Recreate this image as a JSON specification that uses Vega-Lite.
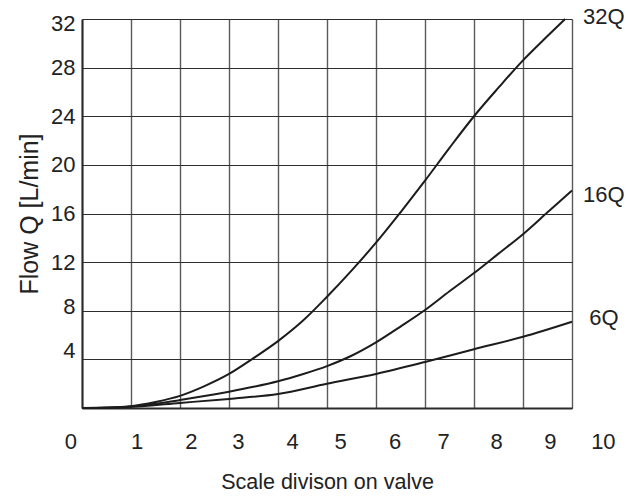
{
  "$schema": "https://vega.github.io/schema/vega-lite/v6.json",
  "width": 490,
  "height": 389,
  "autosize": {"type": "none"},
  "padding": {"left": 82, "top": 19, "right": 60, "bottom": 89},
  "background": "white",
  "config": {
    "view": {"stroke": null},
    "font": "Liberation Sans"
  },
  "datasets": {
    "curves": [
      {"series": "32Q", "x": 0, "y": 0},
      {"series": "32Q", "x": 0.5, "y": 0.03},
      {"series": "32Q", "x": 1, "y": 0.15},
      {"series": "32Q", "x": 1.5, "y": 0.5},
      {"series": "32Q", "x": 2, "y": 1.0},
      {"series": "32Q", "x": 2.5, "y": 1.8},
      {"series": "32Q", "x": 3, "y": 2.8},
      {"series": "32Q", "x": 3.5, "y": 4.1},
      {"series": "32Q", "x": 4, "y": 5.5},
      {"series": "32Q", "x": 4.5, "y": 7.15},
      {"series": "32Q", "x": 5, "y": 9.15},
      {"series": "32Q", "x": 5.5, "y": 11.3},
      {"series": "32Q", "x": 6, "y": 13.6},
      {"series": "32Q", "x": 6.5, "y": 16.1},
      {"series": "32Q", "x": 7, "y": 18.7},
      {"series": "32Q", "x": 7.5, "y": 21.4},
      {"series": "32Q", "x": 8, "y": 24.0},
      {"series": "32Q", "x": 8.5, "y": 26.35},
      {"series": "32Q", "x": 9, "y": 28.6},
      {"series": "32Q", "x": 9.5, "y": 30.6},
      {"series": "32Q", "x": 9.86, "y": 32},
      {"series": "16Q", "x": 0, "y": 0},
      {"series": "16Q", "x": 0.5, "y": 0.02},
      {"series": "16Q", "x": 1, "y": 0.12},
      {"series": "16Q", "x": 1.5, "y": 0.35},
      {"series": "16Q", "x": 2, "y": 0.65},
      {"series": "16Q", "x": 2.5, "y": 0.98},
      {"series": "16Q", "x": 3, "y": 1.34},
      {"series": "16Q", "x": 3.5, "y": 1.74},
      {"series": "16Q", "x": 4, "y": 2.2},
      {"series": "16Q", "x": 4.5, "y": 2.78},
      {"series": "16Q", "x": 5, "y": 3.45},
      {"series": "16Q", "x": 5.5, "y": 4.3},
      {"series": "16Q", "x": 6, "y": 5.4},
      {"series": "16Q", "x": 6.5, "y": 6.7},
      {"series": "16Q", "x": 7, "y": 8.06},
      {"series": "16Q", "x": 7.5, "y": 9.6},
      {"series": "16Q", "x": 8, "y": 11.1},
      {"series": "16Q", "x": 8.5, "y": 12.7},
      {"series": "16Q", "x": 9, "y": 14.3},
      {"series": "16Q", "x": 9.5, "y": 16.1},
      {"series": "16Q", "x": 10, "y": 17.9},
      {"series": "6Q", "x": 0, "y": 0},
      {"series": "6Q", "x": 1, "y": 0.1},
      {"series": "6Q", "x": 2, "y": 0.42},
      {"series": "6Q", "x": 3, "y": 0.75},
      {"series": "6Q", "x": 4, "y": 1.15},
      {"series": "6Q", "x": 5, "y": 2.0},
      {"series": "6Q", "x": 6, "y": 2.8},
      {"series": "6Q", "x": 7, "y": 3.78},
      {"series": "6Q", "x": 8, "y": 4.83},
      {"series": "6Q", "x": 9, "y": 5.86},
      {"series": "6Q", "x": 10, "y": 7.1}
    ],
    "endLabels": [
      {"label": "32Q", "x": 10.65, "y": 32.17},
      {"label": "16Q", "x": 10.65, "y": 17.52},
      {"label": "6Q", "x": 10.65, "y": 7.4}
    ],
    "scaleLabels": [
      {"label": "0", "x": -0.225},
      {"label": "1", "x": 1.125},
      {"label": "2", "x": 2.23},
      {"label": "3", "x": 3.19},
      {"label": "4", "x": 4.3},
      {"label": "5", "x": 5.28},
      {"label": "6", "x": 6.39},
      {"label": "7", "x": 7.38},
      {"label": "8", "x": 8.46},
      {"label": "9", "x": 9.56},
      {"label": "10", "x": 10.64}
    ]
  },
  "layer": [
    {
      "data": {"name": "curves"},
      "mark": {"type": "line", "interpolate": "monotone", "strokeWidth": 2, "color": "#1c1c1c"},
      "encoding": {
        "x": {
          "field": "x", "type": "quantitative",
          "scale": {"domain": [0, 10], "nice": false, "zero": false},
          "axis": {
            "orient": "bottom",
            "values": [0, 1, 2, 3, 4, 5, 6, 7, 8, 9, 10],
            "grid": true, "gridColor": "#5a5a5a", "gridWidth": 1.4,
            "labels": false, "ticks": false, "tickSize": 0,
            "domain": true, "domainColor": "#2a2a2a", "domainWidth": 2,
            "title": "Scale divison on valve",
            "titleFont": "Liberation Sans", "titleFontSize": 21.5, "titleFontWeight": "normal",
            "titleColor": "#222222", "titlePadding": 63
          }
        },
        "y": {
          "field": "y", "type": "quantitative",
          "scale": {"domain": [0, 32], "nice": false, "zero": true},
          "axis": {
            "values": [0, 4, 8, 12, 16, 20, 24, 28, 32],
            "grid": true, "gridColor": "#2e2e2e", "gridWidth": 1.2,
            "ticks": false, "tickSize": 0,
            "domain": true, "domainColor": "#2a2a2a", "domainWidth": 2,
            "labelExpr": "datum.value == 0 ? '' : datum.label",
            "labelFont": "Liberation Sans", "labelFontSize": 22, "labelColor": "#222222",
            "labelPadding": 7, "labelFlush": false, "labelOverlap": false,
            "labelOffset": {
              "condition": [
                {"test": "datum.value == 4", "value": -9},
                {"test": "datum.value == 8", "value": -4},
                {"test": "datum.value == 32", "value": 4}
              ],
              "value": 0
            },
            "title": "Flow Q [L/min]",
            "titleFont": "Liberation Sans", "titleFontSize": 25, "titleFontWeight": "normal",
            "titleColor": "#222222", "titlePadding": 8
          }
        },
        "detail": {"field": "series", "type": "nominal"}
      }
    },
    {
      "data": {"name": "endLabels"},
      "mark": {"type": "text", "align": "center", "baseline": "middle", "font": "Liberation Sans", "fontSize": 22, "color": "#222222"},
      "encoding": {
        "x": {"field": "x", "type": "quantitative", "scale": {"domain": [0, 10], "nice": false, "zero": false}},
        "y": {"field": "y", "type": "quantitative", "scale": {"domain": [0, 32], "nice": false, "zero": true}},
        "text": {"field": "label"}
      }
    },
    {
      "data": {"name": "scaleLabels"},
      "mark": {"type": "text", "align": "center", "baseline": "middle", "font": "Liberation Sans", "fontSize": 22, "color": "#222222"},
      "encoding": {
        "x": {"field": "x", "type": "quantitative", "scale": {"domain": [0, 10], "nice": false, "zero": false}},
        "y": {"datum": -2.8, "type": "quantitative", "scale": {"domain": [0, 32], "nice": false, "zero": true}},
        "text": {"field": "label"}
      }
    }
  ]
}
